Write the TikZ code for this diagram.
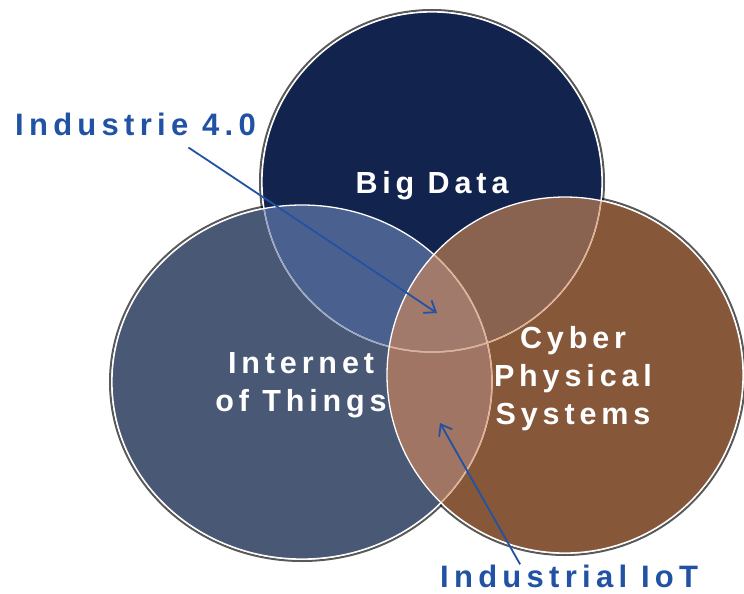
\documentclass[tikz,border=0pt]{standalone}
\usepackage{fontspec}
\setmainfont{Liberation Sans}
\usetikzlibrary{arrows.meta}
\definecolor{bdcol}{HTML}{12244E}
\definecolor{iotcol}{HTML}{485875}
\definecolor{cpscol}{HTML}{87573A}
\definecolor{bdiotcol}{HTML}{4A6190}
\definecolor{bdcpscol}{HTML}{8A6350}
\definecolor{iotcpscol}{HTML}{A07563}
\definecolor{allcol}{HTML}{A27A6C}
\definecolor{peachline}{HTML}{E2AF8F}
\definecolor{greyline}{HTML}{9AA7C2}
\definecolor{labelblue}{HTML}{2152A3}

\begin{document}
\begin{tikzpicture}[x=1pt,y=-1pt,
		circlelabel/.style={text=white,font=\fontsize{30.5}{38}\selectfont\bfseries\addfontfeatures{LetterSpace=16},align=center},
		bluelabel/.style={text=labelblue,font=\fontsize{31}{38}\selectfont\bfseries\addfontfeatures{LetterSpace=17}},
		pointer/.style={labelblue,line width=1.8pt,-{Straight Barb[length=10pt,width=15pt,line width=1.8pt]}}]
		\tikzstyle{every node}+=[inner sep=0pt]
		\useasboundingbox (0,0) rectangle (744,594);
		\def\bd{(432,182) circle (170)}
		\def\iot{(302,382) ellipse (190 and 177)}
		\def\cps{(565,375) circle (178)}
		\draw [black,line width=2pt,opacity=0.65] (432,182) circle (172);
		\draw [black,line width=2pt,opacity=0.65] (302,382) ellipse (192 and 179);
		\draw [black,line width=2pt,opacity=0.65] (565,375) circle (180);
		\fill [bdcol] \bd;
		\fill [iotcol] \iot;
		\fill [cpscol] \cps;
		\begin{scope}
			\clip \bd;
			\fill [bdiotcol] \iot;
			\fill [bdcpscol] \cps;
		\end{scope}
		\begin{scope}
			\clip \iot;
			\fill [iotcpscol] \cps;
		\end{scope}
		\begin{scope}
			\clip \bd;
			\clip \iot;
			\fill [allcol] \cps;
		\end{scope}
		\draw [white,line width=1.3pt] \bd;
		\begin{scope}
			\clip \iot;
			\draw [greyline,line width=1.3pt] \bd;
		\end{scope}
		\begin{scope}
			\clip \cps;
			\draw [peachline,line width=1.3pt] \bd;
		\end{scope}
		\draw [white,line width=1.3pt] \iot;
		\begin{scope}
			\clip \cps;
			\draw [peachline,line width=1.3pt] \iot;
		\end{scope}
		\draw [white,line width=1.3pt] \cps;
		\node [circlelabel,anchor=base] (bigdata) at (432,193) {Big Data};
		\node [circlelabel] (things) at (301,385) {Internet\\of Things};
		\node [circlelabel] (cyber) at (573,379) {Cyber\\Physical\\Systems};
		\node [bluelabel,anchor=base west] (industrie) at (15,135) {Industrie 4.0};
		\node [bluelabel,anchor=base west] (industrial) at (440,587) {Industrial IoT};
		\coordinate (industrietip) at (437,313);
		\coordinate (industrialtip) at (440,423);
		\draw [pointer] ([xshift=53pt,yshift=-12pt]industrie.south) -- (industrietip);
		\draw [pointer] ([xshift=-49pt]industrial.north) -- (industrialtip);
	\end{tikzpicture}
\end{document}
